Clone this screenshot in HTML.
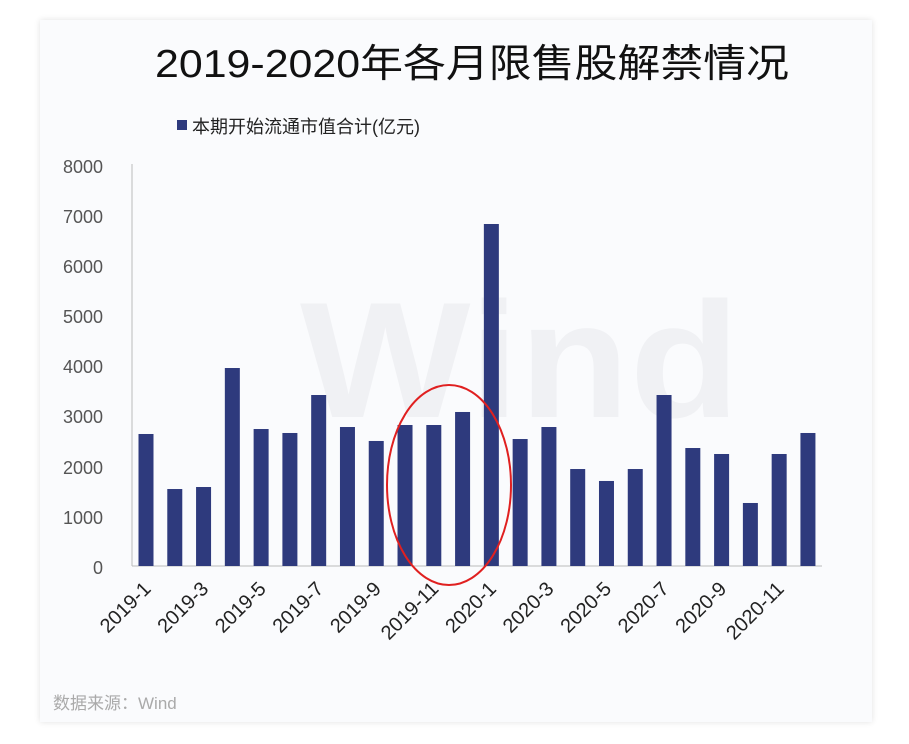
<!DOCTYPE html>
<html><head><meta charset="utf-8"><style>
html,body{margin:0;padding:0;background:#fff;}
body{width:909px;height:744px;overflow:hidden;position:relative;font-family:"Liberation Sans","Noto Sans CJK SC",sans-serif;}
.card{position:absolute;left:40px;top:20px;width:832px;height:702px;background:#fafbfd;box-shadow:0 0 6px rgba(0,0,0,0.12);}
</style></head><body>
<div class="card"></div>
<svg width="909" height="744" style="position:absolute;left:0;top:0" font-family="Liberation Sans, Noto Sans CJK SC, sans-serif">
<text x="472" y="77" font-size="39" text-anchor="middle" fill="#111" textLength="634" lengthAdjust="spacingAndGlyphs">2019-2020年各月限售股解禁情况</text>
<rect x="177" y="120" width="10" height="10" fill="#2e3a7d"/>
<text x="192" y="133" font-size="18" fill="#222">本期开始流通市值合计(亿元)</text>
<text x="520" y="417" font-size="165" font-weight="bold" fill="#f0f1f4" text-anchor="middle" textLength="440" lengthAdjust="spacingAndGlyphs">Wind</text>
<g font-size="18" fill="#555" text-anchor="end">
<text x="103" y="173">8000</text><text x="103" y="223">7000</text><text x="103" y="273">6000</text><text x="103" y="323">5000</text><text x="103" y="373">4000</text><text x="103" y="423">3000</text><text x="103" y="474">2000</text><text x="103" y="524">1000</text><text x="103" y="574">0</text>
</g>
<line x1="132" y1="164" x2="132" y2="566" stroke="#bbb" stroke-width="1"/>
<line x1="132" y1="566" x2="822" y2="566" stroke="#bbb" stroke-width="1"/>
<g fill="#2e3a7d" id="bars"></g>
<g font-size="20" fill="#222" text-anchor="end" id="labels"></g>
<ellipse cx="449" cy="485" rx="62" ry="100" fill="none" stroke="#e02020" stroke-width="2"/>
<text x="53" y="709" font-size="17" fill="#aaa">数据来源：Wind</text>
<script>
var v=[2627,1532,1572,3940,2726,2647,3403,2766,2488,2806,2806,3065,6806,2527,2766,1930,1692,1930,3403,2348,2229,1254,2229,2647];
var lab=["2019-1","2019-3","2019-5","2019-7","2019-9","2019-11","2020-1","2020-3","2020-5","2020-7","2020-9","2020-11"];
var b=document.getElementById('bars'),l=document.getElementById('labels'),ns="http://www.w3.org/2000/svg";
for(var i=0;i<24;i++){var c=146+i*28.78,h=v[i]*0.05025;var r=document.createElementNS(ns,'rect');r.setAttribute('x',c-7.5);r.setAttribute('y',566-h);r.setAttribute('width',15);r.setAttribute('height',h);b.appendChild(r);}
for(var j=0;j<12;j++){var c=146+j*2*28.78+6;var t=document.createElementNS(ns,'text');t.setAttribute('transform','translate('+c+',590) rotate(-45)');t.textContent=lab[j];l.appendChild(t);}
</script>
</svg>
</body></html>
